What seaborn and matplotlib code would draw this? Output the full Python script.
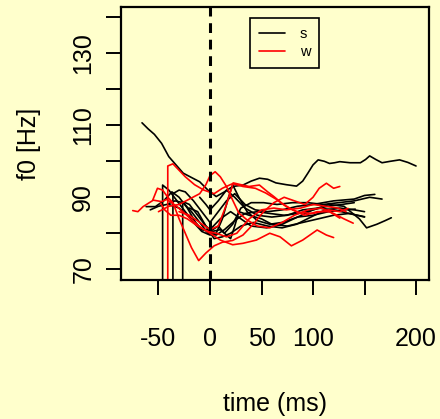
import numpy as np
import pandas as pd
import matplotlib
matplotlib.use("Agg")
import matplotlib.pyplot as plt
from matplotlib.lines import Line2D
import seaborn as sns

# f0 tracks aligned at t = 0; "s" tracks in black, "w" tracks in red.
# A leading 0 marks the unvoiced start of a track.
s1_t = [-66, -60, -54, -47, -40, -33, -26, -18, -10, -2, 6, 14, 22, 32, 40, 48, 56, 64, 74, 84, 90, 95, 100, 105,
        111, 116, 121, 126, 136, 146, 151, 155, 161, 167, 175, 184, 192, 200]
s1_f = [110.7, 109, 107.5, 105, 101.3, 99, 96.7, 95.5, 94.3, 92, 90.2, 91.5, 93, 93.4, 94.5, 95.3, 95, 94, 93.5,
        93.1, 94.5, 96.7, 99, 100.4, 100, 99.4, 99.6, 99.9, 99.6, 99.6, 100.5, 101.5, 100.5, 99.6, 100, 100.4,
        99.7, 98.7]
s2_t = [-46, -46, -40, -32, -24, -16, -8, 0, 6, 12, 18, 22, 28, 36, 46, 58, 70, 85, 100, 115, 130, 141]
s2_f = [0, 93.4, 92, 89, 86, 83, 80.5, 79.5, 80, 84, 90, 93.5, 90, 86, 83.5, 82.5, 83, 84.5, 85, 86, 86.5, 86.7]
s3_t = [-36, -36, -30, -24, -16, -8, 0, 8, 16, 24, 34, 44, 56, 70, 85, 100, 120, 140, 150, 160]
s3_f = [0, 91, 92, 91.5, 89, 86, 83, 86, 89, 91, 88, 86.5, 86, 86.5, 87.5, 88, 89, 89.5, 90.5, 90.8]
s4_t = [-26.5, -26.5, -20, -12, -4, 2, 10, 20, 24, 28, 38, 50, 60, 75, 90, 105, 120, 135, 150]
s4_f = [0, 88.8, 88, 85, 82, 80.5, 81, 78.5, 82, 86, 85, 84, 82.5, 82, 83, 84, 85, 85.5, 84.5]
s5_t = [-62, -53, -45, -37, -30, -22, -14, -8, 0, 8, 14, 22, 30, 40, 52, 65, 80, 95, 110, 125, 140, 155, 167]
s5_f = [87.4, 87.4, 89, 91.5, 90, 87, 83, 81, 80.5, 82, 80, 82.5, 87, 88.5, 88.5, 88, 88.5, 88.5, 88, 88.5, 89,
        90, 89.5]
s6_t = [-40, -30, -18, -8, 0, 10, 20, 30, 40, 55, 70, 85, 100, 115, 130, 145, 152, 162, 170, 176]
s6_f = [88, 87, 84, 81, 81, 84, 86, 84, 82, 81.5, 82.5, 84.5, 86.5, 88, 87.5, 84, 81.5, 82.5, 83.5, 84.3]
s7_t = [-10, -4, 0, 8, 16, 24, 34, 46, 60, 75, 90, 105, 120, 135, 150]
s7_f = [90, 88, 86.5, 89, 92, 90, 87, 85, 84.5, 85, 86.5, 87, 86.5, 85.5, 84.6]
s8_t = [-58, -50, -42, -34, -26, -18, -10, -2, 6, 14, 24, 34, 46, 58, 72, 86, 100, 114, 128, 140]
s8_f = [86.5, 87.5, 88, 89, 88.5, 86, 83, 80, 79.5, 81, 83.5, 85.5, 86, 85.5, 85, 85.5, 86.5, 87.5, 88, 88.5]
s9_t = [-20, -12, -4, 4, 12, 20, 30, 42, 56, 70, 84, 98, 112, 126, 140, 150]
s9_f = [87, 86, 82, 78.5, 79, 80, 82, 83, 82, 81.5, 82.5, 84.5, 86.5, 87, 86.5, 86]

w1_t = [-75, -70, -65, -55, -47, -42, -32, -21, -10, 0, 10, 22, 32, 45, 58, 68, 79, 90, 104, 113, 120]
w1_f = [86.3, 86, 87.4, 89.2, 88.8, 89.4, 87.4, 84.6, 81.8, 80, 78.1, 76.8, 77.2, 78.1, 80, 79, 76.5, 78.1, 80.9,
        79.5, 78.8]
w2_t = [-41, -41, -36, -30, -24, -15, -6, 4, 12, 22, 32, 44, 54, 64, 74, 86, 100, 115, 126, 134]
w2_f = [0, 98.7, 99.3, 97.5, 95.7, 93.5, 92, 91, 92.5, 93.8, 93, 92.5, 91.2, 89.5, 87.4, 85.8, 85.5, 86.5, 86,
        86.9]
w3_t = [-55.6, -51, -46, -41, -36, -30, -24, -18, -11, -4, 4, 12, 22, 32, 42, 52, 62, 72, 82, 92, 100, 106, 113,
        120, 126]
w3_f = [89.2, 92.5, 92, 90, 88.5, 84, 80, 76, 72.4, 74.5, 76.5, 77.5, 78, 79.5, 82.5, 86, 88.5, 90, 89, 88, 90,
        92.5, 93.9, 92.5, 93]
w4_t = [-50, -40, -30, -20, -10, -4, 0, 5, 10, 16, 22, 28, 36, 46, 58, 70, 82, 95, 108, 120, 130, 139]
w4_f = [86, 87.5, 88, 89.5, 91, 93.5, 96, 97.1, 95.7, 93, 89.2, 85.6, 83.7, 82, 81.5, 83, 85, 86.5, 87, 85.5, 84,
        82.8]
w5_t = [-30, -20, -10, 0, 8, 16, 22.6, 30, 38, 48, 56, 62, 70, 80, 92, 104, 116, 126]
w5_f = [86, 85, 83, 81, 82, 88, 94, 93.5, 93, 93.4, 91.5, 90.2, 88.3, 86.5, 85, 86, 86, 84.2]
w6_t = [-48, -44, -38, -30, -22, -12, -2, 6, 16, 26, 38, 50, 62, 74, 88, 100, 112, 124, 132]
w6_f = [88.3, 86.5, 85, 85, 84, 82, 80.5, 80, 79, 80, 84, 86.5, 87, 86.5, 87, 88, 87.5, 87, 86]

s_tracks = [(s1_t, s1_f), (s2_t, s2_f), (s3_t, s3_f), (s4_t, s4_f), (s5_t, s5_f), (s6_t, s6_f), (s7_t, s7_f),
            (s8_t, s8_f), (s9_t, s9_f)]
w_tracks = [(w1_t, w1_f), (w2_t, w2_f), (w3_t, w3_f), (w4_t, w4_f), (w5_t, w5_f), (w6_t, w6_f)]

x_ticks = [-50, 0, 50, 100, 150, 200]
x_labels = ["-50", "0", "50", "100", "", "200"]
y_ticks = [70, 80, 90, 100, 110, 120, 130, 140]
y_labels = ["70", "", "90", "", "110", "", "130", ""]

rows = []
for label, tracks in (("s", s_tracks), ("w", w_tracks)):
    for i, (tt, ff) in enumerate(tracks):
        for k, (a, b) in enumerate(zip(tt, ff)):
            rows.append({"time": a, "f0": b, "type": label, "track": f"{label}{i}", "order": k})
df = pd.DataFrame(rows)

bg = "#FFFFCC"
sns.set_theme(style="ticks")
plt.rcParams["font.family"] = ["Liberation Sans Narrow", "Liberation Sans", "DejaVu Sans"]
plt.rcParams.update({"text.color": "black", "axes.labelcolor": "black",
                     "xtick.color": "black", "ytick.color": "black"})

fig = plt.figure(figsize=(4.40, 4.19), dpi=100, facecolor=bg)
ax = fig.add_axes([121 / 440, 1 - 280 / 419, 308 / 440, 273 / 419])
ax.set_facecolor(bg)

sns.lineplot(data=df, x="time", y="f0", hue="type", units="track", estimator=None, sort=False,
             palette={"s": "black", "w": "#FF0000"}, linewidth=1.2, legend=False, ax=ax)

ax.axvline(0, color="black", lw=2.2, ls=(0, (3.2, 2.2)))

ax.set_xlim(-86.4, 212.6)
ax.set_ylim(67.0, 142.9)
ax.set_xticks(x_ticks)
ax.set_xticklabels(x_labels, fontsize=18)
ax.set_yticks(y_ticks)
ax.set_yticklabels(y_labels, fontsize=18, rotation=90, va="center")
ax.tick_params(axis="both", direction="out", length=10.5, width=1.4, color="black")
ax.tick_params(axis="x", pad=23.5)
ax.tick_params(axis="y", pad=8)
for sp in ax.spines.values():
    sp.set_linewidth(1.6)
    sp.set_color("black")

ax.set_xlabel("time (ms)", fontsize=18, labelpad=29.5)
ax.set_ylabel("f0 [Hz]", fontsize=18, labelpad=22)

handles = [Line2D([0], [0], color="black", lw=1.2), Line2D([0], [0], color="#FF0000", lw=1.2)]
leg = ax.legend(handles, ["s", "w"], loc="upper left", bbox_to_anchor=(0.419, 0.959), fontsize=10.5,
                frameon=True, fancybox=False, edgecolor="black", facecolor=bg, framealpha=1,
                handlelength=1.8, borderpad=0.6, labelspacing=0.3, handletextpad=1.0, borderaxespad=0)
leg.get_frame().set_linewidth(1.2)

fig.savefig("out.png", dpi=100, facecolor=bg)
